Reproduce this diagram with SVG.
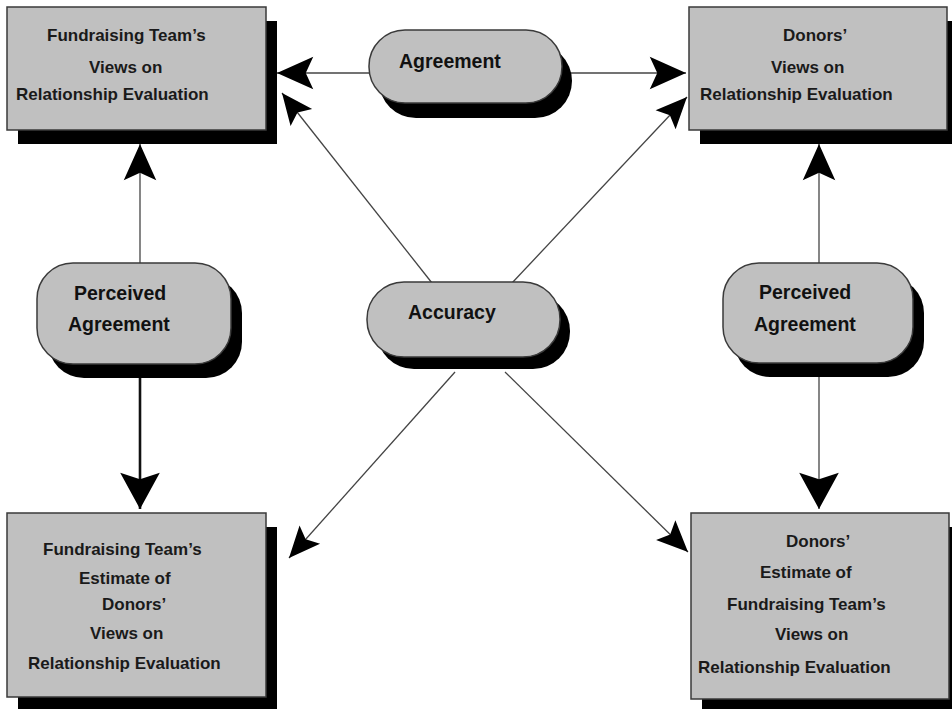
<svg xmlns="http://www.w3.org/2000/svg" width="952" height="709" viewBox="0 0 952 709">
<defs>
<style>
.shadow{fill:#000}
.box{fill:#c0c0c0;stroke:#3a3a3a;stroke-width:1.5}
.t{font-family:"Liberation Sans",Arial,sans-serif;font-weight:bold;font-size:17px;fill:#1a1a1a}
.p{font-family:"Liberation Sans",Arial,sans-serif;font-weight:bold;font-size:19.5px;fill:#111}
.c{fill:none;stroke:#444;stroke-width:1.3}
.ck{fill:none;stroke:#111;stroke-width:2.6}
</style>
<marker id="ah" markerUnits="userSpaceOnUse" markerWidth="40" markerHeight="40" viewBox="-30 -15 32 30" refX="0" refY="0" orient="auto">
<path d="M0,0 L-29,-13 L-23,0 L-29,13 Z" fill="#000"/>
</marker>
<marker id="ahs" markerUnits="userSpaceOnUse" markerWidth="40" markerHeight="40" viewBox="-30 -15 32 30" refX="0" refY="0" orient="auto">
<path d="M0,0 L-25,-11 L-20,0 L-25,11 Z" fill="#000"/>
</marker>
<marker id="ahb" markerUnits="userSpaceOnUse" markerWidth="44" markerHeight="44" viewBox="-36 -20 38 40" refX="0" refY="0" orient="auto">
<path d="M0,0 L-33,-18 L-27,0 L-33,18 Z" fill="#000"/>
</marker>
</defs>
<rect width="952" height="709" fill="#fff"/>

<g id="connectors">
<path class="c" d="M369,73 L277,73" marker-end="url(#ah)"/>
<path class="c" d="M562,73 L686,73" marker-end="url(#ah)"/>
<path class="c" d="M432,283 L282,93" marker-end="url(#ahs)"/>
<path class="c" d="M512,283 L687,97" marker-end="url(#ahs)"/>
<path class="c" d="M455,372 L289,558" marker-end="url(#ahs)"/>
<path class="c" d="M505,372 L688,552" marker-end="url(#ahs)"/>
<path class="c" d="M140,263 L140,144" marker-end="url(#ah)"/>
<path class="ck" d="M140,378 L140,509" marker-end="url(#ahb)"/>
<path class="c" d="M819,263 L819,144" marker-end="url(#ah)"/>
<path class="c" d="M819,377 L819,509" marker-end="url(#ahb)"/>
</g>

<g id="fund-views">
<rect class="shadow" x="18" y="21" width="259" height="123"/>
<rect class="box" x="7" y="7" width="259" height="123"/>
<text class="t" x="47" y="41">Fundraising Team’s</text>
<text class="t" x="89" y="73">Views on</text>
<text class="t" x="16" y="100">Relationship Evaluation</text>
</g>

<g id="donor-views">
<rect class="shadow" x="700" y="21" width="252" height="123"/>
<rect class="box" x="689" y="7" width="258" height="123"/>
<text class="t" x="783" y="41">Donors’</text>
<text class="t" x="771" y="73">Views on</text>
<text class="t" x="700" y="100">Relationship Evaluation</text>
</g>

<g id="fund-estimate">
<rect class="shadow" x="18" y="527" width="259" height="182"/>
<rect class="box" x="7" y="513" width="259" height="184"/>
<text class="t" x="43" y="555">Fundraising Team’s</text>
<text class="t" x="79" y="584">Estimate of</text>
<text class="t" x="102" y="610">Donors’</text>
<text class="t" x="90" y="639">Views on</text>
<text class="t" x="28" y="669">Relationship Evaluation</text>
</g>

<g id="donor-estimate">
<rect class="shadow" x="702" y="527" width="250" height="182"/>
<rect class="box" x="691" y="513" width="258" height="186"/>
<text class="t" x="786" y="547">Donors’</text>
<text class="t" x="760" y="578">Estimate of</text>
<text class="t" x="727" y="610">Fundraising Team’s</text>
<text class="t" x="775" y="640">Views on</text>
<text class="t" x="698" y="673">Relationship Evaluation</text>
</g>

<g id="agreement">
<rect class="shadow" x="379" y="44" width="193" height="74" rx="37"/>
<rect class="box" x="369" y="30" width="193" height="73" rx="36"/>
<text class="p" x="399" y="68">Agreement</text>
</g>

<g id="accuracy">
<rect class="shadow" x="377" y="294" width="193" height="75" rx="37"/>
<rect class="box" x="367" y="282" width="193" height="75" rx="37"/>
<text class="p" x="408" y="319">Accuracy</text>
</g>

<g id="perceived-left">
<rect class="shadow" x="48" y="277" width="194" height="101" rx="36"/>
<rect class="box" x="37" y="263" width="194" height="101" rx="36"/>
<text class="p" x="74" y="300">Perceived</text>
<text class="p" x="68" y="331">Agreement</text>
</g>

<g id="perceived-right">
<rect class="shadow" x="734" y="277" width="190" height="100" rx="36"/>
<rect class="box" x="723" y="263" width="190" height="100" rx="36"/>
<text class="p" x="759" y="299">Perceived</text>
<text class="p" x="754" y="331">Agreement</text>
</g>
</svg>
